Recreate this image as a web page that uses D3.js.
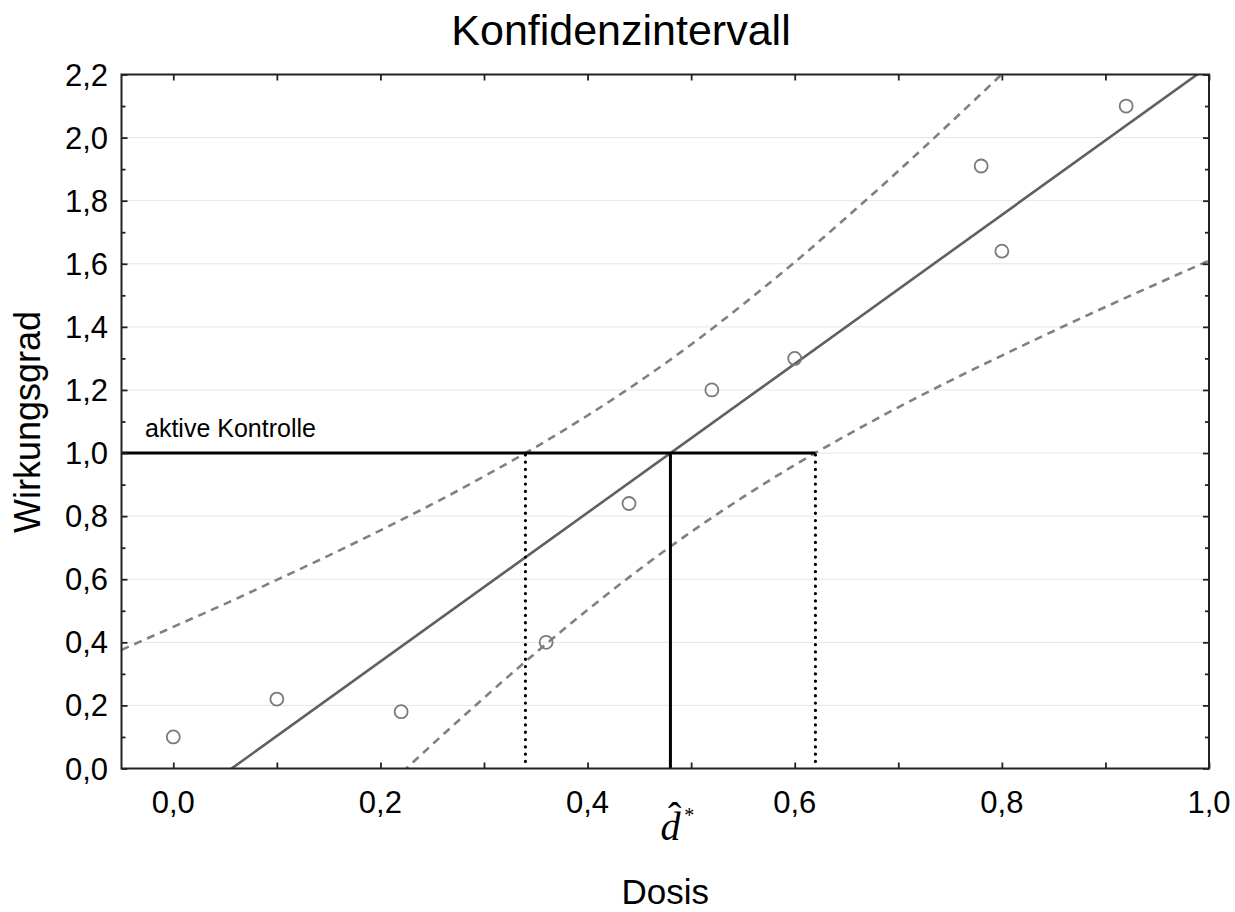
<!DOCTYPE html>
<html>
<head>
<meta charset="utf-8">
<script src="https://cdn.jsdelivr.net/npm/d3@7"></script>
<style>
  html, body { margin: 0; padding: 0; background: #fff; }
  svg { display: block; }
  text { font-family: "Liberation Sans", Arial, sans-serif; fill: #000; }
</style>
</head>
<body>
<svg id="chart" width="1235" height="912"></svg>
<script>
// ── Data ──────────────────────────────────────────────────────────────────────

const pointsX = [0.00, 0.10, 0.22, 0.36, 0.44, 0.52, 0.60, 0.78, 0.80, 0.92];
const pointsY = [0.10, 0.22, 0.18, 0.40, 0.84, 1.20, 1.30, 1.91, 1.64, 2.10];

// fitted regression line, end points
const fitX = [-0.05, 1.00];
const fitY = [-0.251, 2.227];

// confidence band, sampled every 0.05
const bandX  = [-0.05, 0.00, 0.05, 0.10, 0.15, 0.20, 0.25, 0.30, 0.35, 0.40, 0.45,
                0.50, 0.55, 0.60, 0.65, 0.70, 0.75, 0.80, 0.85, 0.90, 0.95, 1.00];
const upperY = [0.376, 0.449, 0.522, 0.598, 0.675, 0.755, 0.838, 0.926, 1.019, 1.119, 1.227,
                1.344, 1.471, 1.605, 1.747, 1.894, 2.046, 2.201, 2.360, 2.520, 2.682, 2.845];
const lowerY = [-0.878, -0.714, -0.552, -0.391, -0.233, -0.077, 0.076, 0.224, 0.367, 0.503, 0.631,
                0.750, 0.860, 0.962, 1.056, 1.145, 1.229, 1.309, 1.387, 1.463, 1.537, 1.610];

const controlLevel = 1.0;   // "aktive Kontrolle"
const dHat   = 0.48;        // estimated dose
const ciLow  = 0.34;
const ciHigh = 0.62;

const xLabelTicks = [0.0, 0.2, 0.4, 0.6, 0.8, 1.0];
const yLabelTicks = [0.0, 0.2, 0.4, 0.6, 0.8, 1.0, 1.2, 1.4, 1.6, 1.8, 2.0, 2.2];
const xMinorTicks = [0.0, 0.1, 0.2, 0.3, 0.4, 0.5, 0.6, 0.7, 0.8, 0.9, 1.0];
const yMinorTicks = [0.1, 0.3, 0.5, 0.7, 0.9, 1.1, 1.3, 1.5, 1.7, 1.9, 2.1];

// ── Layout ────────────────────────────────────────────────────────────────────

const plotL = 121.5, plotR = 1209, plotT = 74.5, plotB = 768.5;

const x = d3.scaleLinear().domain([-0.05, 1.0]).range([plotL, plotR]);
const y = d3.scaleLinear().domain([0, 2.2]).range([plotB, plotT]);

const fmt = d => d3.format(".1f")(d).replace(".", ",");

const svg = d3.select("#chart");

svg.append("defs").append("clipPath").attr("id", "plot-clip")
  .append("rect")
  .attr("x", plotL).attr("y", plotT)
  .attr("width", plotR - plotL).attr("height", plotB - plotT);

// ── Grid ──────────────────────────────────────────────────────────────────────

svg.append("g")
  .selectAll("line")
  .data(yLabelTicks.filter(v => v > 0 && v < 2.2))
  .join("line")
  .attr("x1", plotL).attr("x2", plotR)
  .attr("y1", d => y(d)).attr("y2", d => y(d))
  .attr("stroke", "#e6e6e6").attr("stroke-width", 1);

// ── Band, fit, points ─────────────────────────────────────────────────────────

const plot = svg.append("g").attr("clip-path", "url(#plot-clip)");

const bandLine = d3.line().curve(d3.curveMonotoneX);

[upperY, lowerY].forEach(ys => {
  plot.append("path")
    .attr("d", bandLine(bandX.map((bx, i) => [x(bx), y(ys[i])])))
    .attr("fill", "none")
    .attr("stroke", "#808080")
    .attr("stroke-width", 2.6)
    .attr("stroke-dasharray", "8 6");
});

plot.append("path")
  .attr("d", d3.line()(fitX.map((fx, i) => [x(fx), y(fitY[i])])))
  .attr("fill", "none")
  .attr("stroke", "#606060")
  .attr("stroke-width", 2.6);

plot.append("g")
  .selectAll("circle")
  .data(pointsX.map((px, i) => [px, pointsY[i]]))
  .join("circle")
  .attr("cx", d => x(d[0])).attr("cy", d => y(d[1]))
  .attr("r", 6.5)
  .attr("fill", "none")
  .attr("stroke", "#7a7a7a")
  .attr("stroke-width", 1.8);

// ── Control level and dose markers ────────────────────────────────────────────

svg.append("g")
  .selectAll("line")
  .data([ciLow, ciHigh])
  .join("line")
  .attr("x1", d => x(d)).attr("x2", d => x(d))
  .attr("y1", y(0) - 7).attr("y2", y(controlLevel))
  .attr("stroke", "#000")
  .attr("stroke-width", 3.2)
  .attr("stroke-linecap", "round")
  .attr("stroke-dasharray", "0.1 7.2");

svg.append("line")
  .attr("x1", x(dHat)).attr("x2", x(dHat))
  .attr("y1", y(0)).attr("y2", y(controlLevel))
  .attr("stroke", "#000").attr("stroke-width", 3);

svg.append("line")
  .attr("x1", x(-0.05)).attr("x2", x(ciHigh))
  .attr("y1", y(controlLevel)).attr("y2", y(controlLevel))
  .attr("stroke", "#000").attr("stroke-width", 3);

svg.append("text")
  .attr("x", 145).attr("y", y(controlLevel) - 16)
  .attr("font-size", 25)
  .text("aktive Kontrolle");

// ── Axes (inward ticks on all four sides) ─────────────────────────────────────

function tickAxis(axisFn, scale, values, size, tr) {
  const a = axisFn(scale).tickValues(values).tickSize(-size).tickFormat("");
  const gA = svg.append("g").attr("transform", tr).call(a);
  gA.select(".domain").remove();
  gA.selectAll(".tick line").attr("stroke", "#222").attr("stroke-width", 1.8);
}

tickAxis(d3.axisBottom, x, xMinorTicks, 6, `translate(0,${plotB})`);
tickAxis(d3.axisTop,    x, xMinorTicks, 6, `translate(0,${plotT})`);
tickAxis(d3.axisLeft,   y, yLabelTicks, 6, `translate(${plotL},0)`);
tickAxis(d3.axisLeft,   y, yMinorTicks, 4, `translate(${plotL},0)`);
tickAxis(d3.axisRight,  y, yLabelTicks, 6, `translate(${plotR},0)`);
tickAxis(d3.axisRight,  y, yMinorTicks, 4, `translate(${plotR},0)`);

svg.append("rect")
  .attr("x", plotL).attr("y", plotT)
  .attr("width", plotR - plotL).attr("height", plotB - plotT)
  .attr("fill", "none").attr("stroke", "#222").attr("stroke-width", 2);

svg.append("g")
  .selectAll("text")
  .data(xLabelTicks)
  .join("text")
  .attr("x", d => x(d)).attr("y", 813)
  .attr("text-anchor", "middle")
  .attr("font-size", 31)
  .text(fmt);

svg.append("g")
  .selectAll("text")
  .data(yLabelTicks)
  .join("text")
  .attr("x", 108).attr("y", d => y(d) + 11)
  .attr("text-anchor", "end")
  .attr("font-size", 31)
  .text(fmt);

// ── Titles ────────────────────────────────────────────────────────────────────

svg.append("text")
  .attr("x", 621).attr("y", 45)
  .attr("text-anchor", "middle")
  .attr("font-size", 43)
  .text("Konfidenzintervall");

svg.append("text")
  .attr("x", (plotL + plotR) / 2).attr("y", 904)
  .attr("text-anchor", "middle")
  .attr("font-size", 35)
  .text("Dosis");

svg.append("text")
  .attr("transform", "translate(40,422) rotate(-90)")
  .attr("text-anchor", "middle")
  .attr("font-size", 36)
  .text("Wirkungsgrad");

// d-hat-star label under the estimated dose, one text element
const dLab = svg.append("text")
  .attr("x", x(dHat) - 10).attr("y", 840)
  .style("font-family", "'Liberation Serif', 'Times New Roman', serif");

dLab.append("tspan")
  .attr("font-size", 40)
  .style("font-style", "italic")
  .text("d");

dLab.append("tspan")
  .attr("dx", -12.5).attr("dy", -10)
  .attr("font-size", 40)
  .text("\u02C6");

dLab.append("tspan")
  .attr("dx", 3).attr("dy", -8)
  .attr("font-size", 20)
  .text("*");
</script>
</body>
</html>
